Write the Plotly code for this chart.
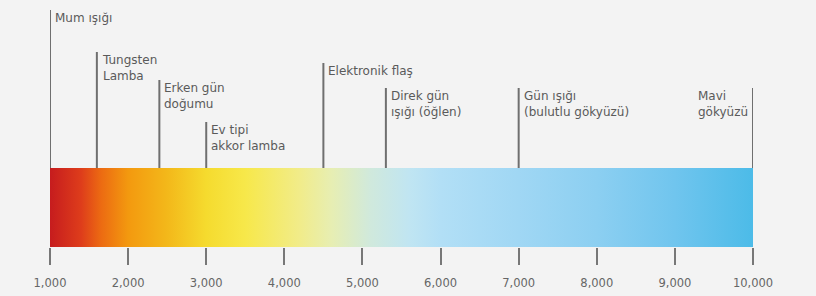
import plotly.graph_objects as go

# ---- data ----
tick_values = [1000, 2000, 3000, 4000, 5000, 6000, 7000, 8000, 9000, 10000]
tick_labels = ["1,000", "2,000", "3,000", "4,000", "5,000", "6,000", "7,000", "8,000", "9,000", "10,000"]

source_names = ["Mum ışığı", "Tungsten<br>Lamba", "Erken gün<br>doğumu", "Ev tipi<br>akkor lamba",
                "Elektronik flaş", "Direk gün<br>ışığı (öğlen)", "Gün ışığı<br>(bulutlu gökyüzü)", "Mavi<br>gökyüzü"]
source_kelvin = [1000, 1600, 2400, 3000, 4500, 5300, 7000, 10000]

gradient_kelvin = [1000, 1400, 1650, 2000, 2500, 3000, 3500, 4200, 4600, 5100, 5600, 6000, 7000, 8000, 9000, 10000]
gradient_colors = ["#c61c1e", "#de3d1b", "#ec6a12", "#f3990f", "#f3b81a", "#f5db2e", "#f7e84a", "#f1ec8a",
                   "#e7eeb2", "#d0e9dc", "#c0e5f2", "#b2dff6", "#a0d7f4", "#8ccff1", "#70c5ee", "#4cbbe8"]

# ---- layout settings (y in pixel-like units, reversed axis) ----
label_top = [10, 52, 80, 122, 63, 88, 88, 88]
bar_top, bar_bottom = 168, 247
bg = "#f3f3f3"
kmin, kmax = tick_values[0], tick_values[-1]

fig = go.Figure()

colorscale = [[(k - kmin) / (kmax - kmin), c] for k, c in zip(gradient_kelvin, gradient_colors)]
fig.add_trace(go.Scatter(
    x=[kmin, kmax, kmax, kmin, kmin],
    y=[bar_top, bar_top, bar_bottom, bar_bottom, bar_top],
    mode="lines", line=dict(width=0), fill="toself",
    fillgradient=dict(type="horizontal", colorscale=colorscale, start=kmin, stop=kmax),
    hoverinfo="skip", showlegend=False,
))

lx, ly = [], []
for k, t in zip(source_kelvin, label_top):
    lx += [k, k, None]
    ly += [t, bar_top, None]
fig.add_trace(go.Scatter(x=lx, y=ly, mode="lines", line=dict(color="#6f6f6f", width=2),
                         hoverinfo="skip", showlegend=False))

for i, (name, k, t) in enumerate(zip(source_names, source_kelvin, label_top)):
    last = i == len(source_names) - 1
    fig.add_annotation(
        x=k, y=t, text=name, showarrow=False,
        xanchor="right" if last else "left", yanchor="top", align="left",
        xshift=-3 if last else 3, yshift=1,
        font=dict(family="DejaVu Sans", size=12, color="#5a5a5a"),
    )

fig.update_layout(
    width=816, height=296,
    margin=dict(l=50, r=63, t=0, b=296 - bar_bottom),
    paper_bgcolor=bg, plot_bgcolor=bg,
    xaxis=dict(range=[kmin, kmax], tickvals=tick_values, ticktext=tick_labels,
               ticks="outside", ticklen=17, tickwidth=2, tickcolor="#777777",
               showgrid=False, zeroline=False, showline=False,
               tickfont=dict(family="DejaVu Sans", size=11.5, color="#666666"),
               ticklabelstandoff=8),
    yaxis=dict(range=[bar_bottom, 0], visible=False, showgrid=False, zeroline=False),
)

fig.write_html(
    "out.html",
    config={"displayModeBar": False},
    post_script="document.body.style.margin='0';document.body.style.background='%s';" % bg,
)
